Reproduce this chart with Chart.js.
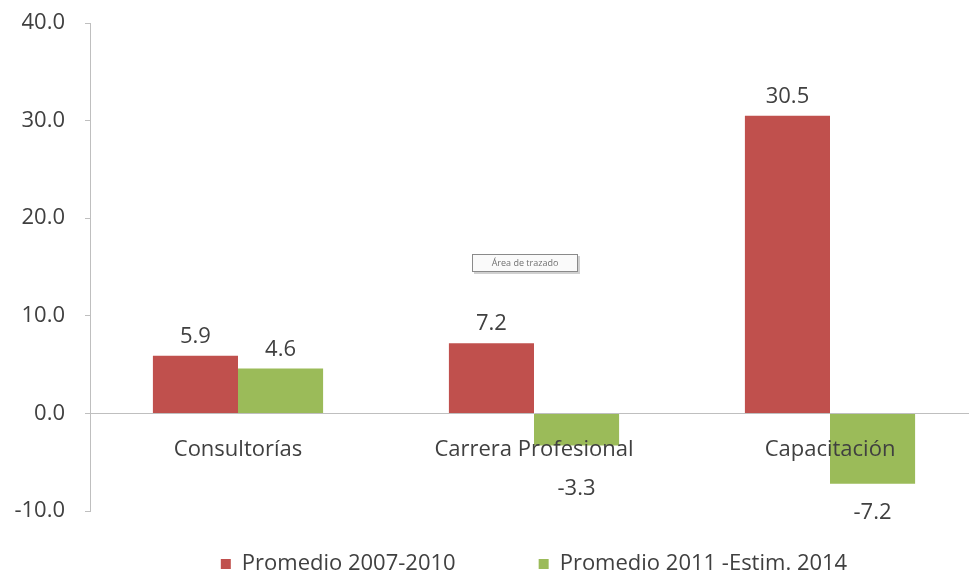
<!DOCTYPE html>
<html>
<head>
<meta charset="utf-8">
<script src="https://cdn.jsdelivr.net/npm/chart.js@4.4.1/dist/chart.umd.min.js"></script>
<style>
  html, body { margin: 0; padding: 0; background: #fff; overflow: hidden; }
</style>
</head>
<body>
<canvas id="chart" width="978" height="576"></canvas>
<script>
const categories = ['Consultorías', 'Carrera Profesional', 'Capacitación'];
const seriesNames = ['Promedio 2007-2010', 'Promedio 2011 -Estim. 2014'];
const promedio2007_2010 = [5.9, 7.2, 30.5];
const promedio2011_2014 = [4.6, -3.3, -7.2];
const yTicks = [-10, 0, 10, 20, 30, 40];

const RED = '#C0504D';
const GREEN = '#9BBB59';
const TEXT = '#404040';
const AXIS = '#BFBFBF';
const FONT = "'Open Sans'";

// value labels above positive bars, below negative ones (kept clear of category names)
const valueLabels = {
  id: 'valueLabels',
  afterDraw(chart) {
    const ctx = chart.ctx;
    const zeroY = chart.scales.y.getPixelForValue(0);
    ctx.save();
    ctx.font = '22px ' + FONT;
    ctx.fillStyle = TEXT;
    ctx.textAlign = 'center';
    ctx.textBaseline = 'middle';
    chart.data.datasets.forEach((ds, i) => {
      chart.getDatasetMeta(i).data.forEach((bar, j) => {
        const v = ds.data[j];
        const y = v >= 0 ? bar.y - 19 : Math.max(bar.y + 29, zeroY + 75);
        ctx.fillText(v.toFixed(1), bar.x, y);
      });
    });
    ctx.restore();
  }
};

// the little Excel hover tag left in the screenshot
const plotTag = {
  id: 'plotTag',
  afterDraw(chart) {
    const ctx = chart.ctx;
    ctx.save();
    ctx.fillStyle = '#d0d0d0';
    ctx.fillRect(474, 256, 106, 18);
    ctx.fillStyle = '#fafafa';
    ctx.strokeStyle = '#8a8a8a';
    ctx.lineWidth = 1;
    ctx.fillRect(472.5, 254.5, 105, 17);
    ctx.strokeRect(472.5, 254.5, 105, 17);
    ctx.font = '9px ' + FONT;
    ctx.fillStyle = '#707070';
    ctx.textAlign = 'center';
    ctx.textBaseline = 'middle';
    ctx.fillText('Área de trazado', 525, 263);
    ctx.restore();
  }
};

new Chart(document.getElementById('chart'), {
  type: 'bar',
  data: {
    labels: categories,
    datasets: [
      { label: seriesNames[0], data: promedio2007_2010, backgroundColor: RED },
      { label: seriesNames[1], data: promedio2011_2014, backgroundColor: GREEN }
    ]
  },
  options: {
    responsive: false,
    animation: false,
    events: [],
    datasets: { bar: { barPercentage: 1, categoryPercentage: 0.575 } },
    layout: { padding: { top: 23, bottom: -9, left: 0, right: 0 } },
    scales: {
      x: {
        position: { y: 0 },
        grid: { drawOnChartArea: false, drawTicks: false },
        border: { color: AXIS, width: 1 },
        ticks: { z: 1, color: TEXT, font: { family: FONT, size: 22 }, padding: 23 }
      },
      y: {
        min: yTicks[0],
        max: yTicks[yTicks.length - 1],
        afterFit(scale) {
          scale.width = 90;
          scale.paddingTop = 0;
          scale.paddingBottom = 0;
        },
        afterBuildTicks(scale) { scale.ticks = yTicks.map(v => ({ value: v })); },
        grid: { drawOnChartArea: false, drawTicks: true, tickLength: 5, color: AXIS },
        border: { color: AXIS, width: 1 },
        ticks: {
          color: TEXT,
          font: { family: FONT, size: 22 },
          padding: 20,
          callback: v => v.toFixed(1)
        }
      }
    },
    plugins: {
      tooltip: { enabled: false },
      legend: {
        position: 'bottom',
        fullSize: false,
        // empty title only used to pull the row up; padding sets the wide gap between items
        title: { display: true, text: '', font: { size: 10 }, padding: { top: -53, bottom: 0 } },
        labels: {
          boxWidth: 10,
          boxHeight: 10,
          padding: 83,
          color: TEXT,
          font: { family: FONT, size: 22 }
        }
      }
    }
  },
  plugins: [valueLabels, plotTag]
});
</script>
</body>
</html>
